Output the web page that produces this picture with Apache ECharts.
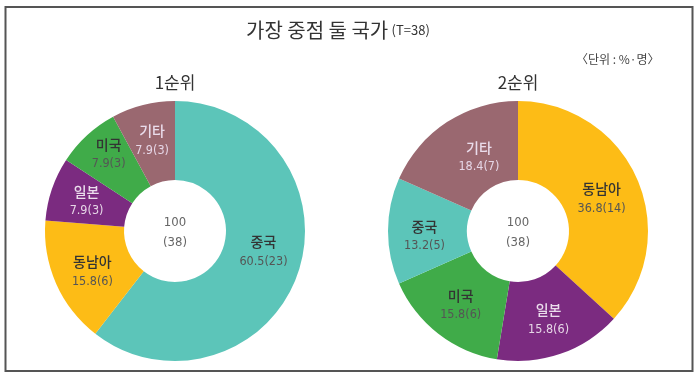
<!DOCTYPE html>
<html><head><meta charset="utf-8">
<script src="https://cdn.jsdelivr.net/npm/echarts@6/dist/echarts.min.js"></script>
<style>html,body{margin:0;padding:0;background:#fff}#c{width:700px;height:381px}</style>
</head><body><div id="c"></div>
<script>
const rank1Names = ['중국','동남아','일본','미국','기타'];
const rank1Values = [60.5,15.8,7.9,7.9,7.9];
const rank1Counts = [23,6,3,3,3];
const rank2Names = ['동남아','일본','미국','중국','기타'];
const rank2Values = [36.8,15.8,15.8,13.2,18.4];
const rank2Counts = [14,6,6,5,7];
const colorMap = {'중국':'#5CC5B9','동남아':'#FDBC16','일본':'#7B2B80','미국':'#40AB49','기타':'#9A6870'};
const lightLabel = {'일본':true,'기타':true};
const FONT = '"Noto Sans CJK KR", "Noto Sans", sans-serif';
const NUMFONT = '"DejaVu Sans Condensed","Liberation Sans Narrow",sans-serif';
// label nudges (style only)
const nudge1 = {'중국':[0,-10],'미국':[-3,-8],'동남아':[3,3]};
const nudge2 = {'기타':[12,4],'중국':[0,5],'동남아':[-2,5]};

function makeData(names, values, counts, nudge){
  return names.map((n,i)=>({
    name:n, value:values[i], count:counts[i],
    itemStyle:{color:colorMap[n]},
    label:{offset:nudge[n]||[0,0], rich:{
      n:{fontSize:14,fontFamily:FONT,color:lightLabel[n]?'#EADCEB':'#333',lineHeight:20,fontWeight:500},
      v:{fontSize:12.5,fontFamily:NUMFONT,color:lightLabel[n]?'#E6D6E6':'#555',lineHeight:19}
    }}
  }));
}
function pie(center, names, values, counts, nudge){
  return {
    type:'pie', radius:[51,130], center:center, startAngle:90, clockwise:true,
    avoidLabelOverlap:false, silent:true,
    label:{show:true, position:'inside', formatter:p=>'{n|'+p.name+'}\n{v|'+p.value+'('+p.data.count+')}'},
    labelLine:{show:false},
    itemStyle:{borderWidth:0},
    data:makeData(names, values, counts, nudge)
  };
}
const chart = echarts.init(document.getElementById('c'), null, {renderer:'canvas'});
chart.setOption({
  animation:false,
  backgroundColor:'#fff',
  graphic:[
    {type:'rect', shape:{x:5.5,y:7,width:687,height:364}, style:{fill:'none',stroke:'#555',lineWidth:2}},
    {type:'text', x:246, y:20, style:{text:'{a|가장 중점 둘 국가} {b|(T=38)}', rich:{a:{fontSize:20,fontFamily:FONT,fill:'#333'},b:{fontSize:13,fontFamily:FONT,fill:'#333'}}}},
    {type:'text', x:576, y:53, style:{text:'〈단위 : %·명〉', fontSize:12, fontFamily:FONT, fill:'#444'}},
    {type:'text', x:175, y:83, style:{text:'1순위', fontSize:17, fontFamily:FONT, fill:'#333', align:'center', verticalAlign:'middle'}},
    {type:'text', x:518, y:83, style:{text:'2순위', fontSize:17, fontFamily:FONT, fill:'#333', align:'center', verticalAlign:'middle'}},
    {type:'text', x:175, y:233, style:{text:'100\n(38)', fontSize:13, lineHeight:20, fontFamily:NUMFONT, fill:'#666', align:'center', verticalAlign:'middle'}},
    {type:'text', x:518, y:233, style:{text:'100\n(38)', fontSize:13, lineHeight:20, fontFamily:NUMFONT, fill:'#666', align:'center', verticalAlign:'middle'}}
  ],
  series:[
    pie([175,231], rank1Names, rank1Values, rank1Counts, nudge1),
    pie([518,231], rank2Names, rank2Values, rank2Counts, nudge2)
  ]
});
</script></body></html>
